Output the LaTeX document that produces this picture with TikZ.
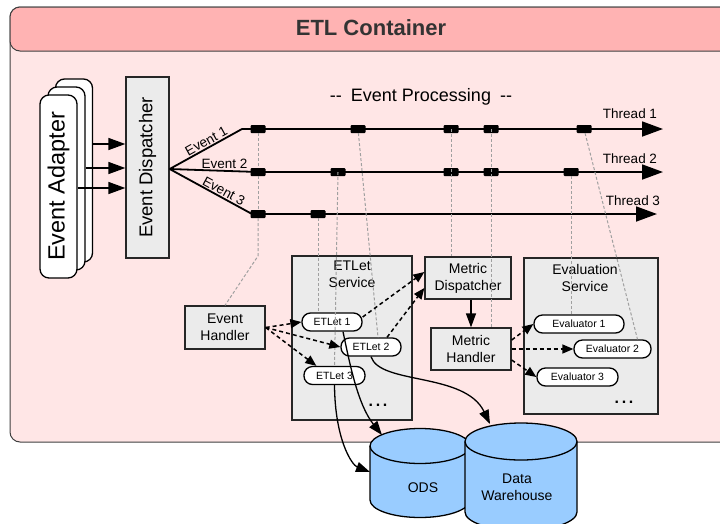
\documentclass[tikz,border=0pt]{standalone}
\usepackage{fontspec}
\setmainfont{Liberation Sans}
\usepackage{graphicx}
\usetikzlibrary{arrows.meta}

\definecolor{headpink}{HTML}{FFB3B3}
\definecolor{bodypink}{HTML}{FFE6E6}
\definecolor{boxgray}{HTML}{EBEBEB}
\definecolor{dotgray}{HTML}{A0A0A0}
\definecolor{dbblue}{HTML}{99CCFF}

% cylinder: centre x, top y, x radius, y radius, bottom y
\newcommand{\dbcyl}[5]{%
  \filldraw[fill=dbblue, line width=1.3pt] ({#1-#3},#2) -- ({#1-#3},#5)
    arc[start angle=180, end angle=360, x radius=#3, y radius=#4]
    -- ({#1+#3},#2)
    arc[start angle=0, end angle=180, x radius=#3, y radius=#4] -- cycle;
  \draw[line width=1.3pt] ({#1-#3},#2)
    arc[start angle=180, end angle=360, x radius=#3, y radius=#4];}

\begin{document}
\begin{tikzpicture}[x=1pt,y=1pt]
        \tikzstyle{gray box}=[draw=black!85,line width=1.3pt,fill=boxgray,align=center,inner sep=0pt,font=\fontsize{14}{17}\selectfont]
        \tikzstyle{adapter node}=[draw,line width=1.3pt,fill=white,rounded corners=9pt,inner sep=0pt,minimum width=37pt,minimum height=183pt]
        \tikzstyle{pill node}=[draw,line width=1.3pt,fill=white,rounded corners=8.5pt,inner sep=0pt,minimum height=18pt,font=\fontsize{10.5}{12}\selectfont]
        \tikzstyle{stamp node}=[fill=black,minimum width=15pt,minimum height=8pt,inner sep=0pt,rounded corners=1pt]
        \tikzstyle{feed arrow}=[line width=1.5pt,-{Triangle[length=17pt,width=12pt]}]
        \tikzstyle{thread line}=[line width=1.8pt,-{Triangle[length=21pt,width=15pt]}]
        \tikzstyle{thread label}=[font=\fontsize{13.5}{16}\selectfont]
        \tikzstyle{dot line}=[draw=dotgray,line width=1pt,dash pattern=on 3pt off 2pt]
        \tikzstyle{call arrow}=[line width=1.5pt,dash pattern=on 4pt off 3pt,-{Triangle[length=11pt,width=9pt]}]
        \tikzstyle{store arrow}=[line width=1.3pt,-{Triangle[length=14pt,width=10pt]}]
        \tikzstyle{db text}=[align=center,font=\fontsize{14}{17}\selectfont]

        \useasboundingbox (0,0) rectangle (720,-523);
        \clip (0,0) rectangle (720,-523);

        % container
        \draw[draw=black!75,fill=bodypink,rounded corners=10pt,line width=1pt] (10,-7) rectangle (745,-442);
        \draw[draw=black!75,fill=headpink,rounded corners=10pt,line width=1pt] (10,-7) rectangle (745,-51);
        \node[font=\bfseries\fontsize{22}{26}\selectfont,text=black!80] (title) at (371,-28) {ETL Container};

        % adapters and dispatcher
        \node[adapter node] (ad3) at (74,-170.5) {};
        \node[adapter node] (ad2) at (66.5,-178.5) {};
        \node[adapter node,font=\fontsize{23.5}{26}\selectfont] (ad1) at (58.5,-186.5) {\rotatebox{90}{Event Adapter}};
        \node[gray box,minimum width=43pt,minimum height=181pt,font=\fontsize{18.5}{20}\selectfont] (disp) at (147.5,-167.5) {\rotatebox{90}{Event Dispatcher}};
        \draw[feed arrow] (ad3.east |- 0,-144) -- (disp.west |- 0,-144);
        \draw[feed arrow] (ad2.east |- 0,-168) -- (disp.west |- 0,-168);
        \draw[feed arrow] (ad1.east |- 0,-188) -- (disp.west |- 0,-188);

        % services
        \node[gray box,minimum width=120pt,minimum height=164pt] (svc) at (352,-338) {};
        \node[align=center,anchor=north,font=\fontsize{14}{17}\selectfont] (svct) at ([yshift=-2pt]svc.north) {ETLet\\Service};
        \node[gray box,minimum width=134pt,minimum height=156pt] (evs) at (591,-336) {};
        \node[align=center,anchor=north,font=\fontsize{14}{17}\selectfont] (evst) at ([xshift=-6pt,yshift=-3pt]evs.north) {Evaluation\\Service};

        % threads
        \node[font=\fontsize{18}{20}\selectfont] (proc) at (421,-97) {-{}-\hspace{9pt}Event Processing\hspace{9pt}-{}-};
        \coordinate (fan) at (disp.east |- 0,-169);
        \coordinate (bend1) at (242,-129);
        \coordinate (bend2) at (258,-172);
        \coordinate (bend3) at (252,-214);
        \coordinate (t1end) at (663,-129);
        \coordinate (t2end) at (663,-172);
        \coordinate (t3end) at (657,-214);
        \draw[thread line] (fan) -- node[sloped,above,pos=0.55,inner sep=1pt,thread label] {Event 1} (bend1) -- (t1end);
        \draw[thread line] (fan) -- node[above,pos=0.62,inner sep=1pt,thread label] {Event 2} (bend2) -- (t2end);
        \draw[thread line] (fan) -- node[sloped,above,pos=0.62,inner sep=1pt,thread label] {Event 3} (bend3) -- (t3end);
        \node[thread label] (th1) at (630,-114) {Thread 1};
        \node[thread label] (th2) at (630,-159) {Thread 2};
        \node[thread label] (th3) at (633,-201) {Thread 3};

        \node[stamp node] (m11) at (258,-129) {};
        \node[stamp node] (m12) at (358,-129) {};
        \node[stamp node] (m13) at (451,-129) {};
        \node[stamp node] (m14) at (491,-129) {};
        \node[stamp node] (m15) at (584,-129) {};
        \node[stamp node] (m21) at (258,-172) {};
        \node[stamp node] (m22) at (338,-172) {};
        \node[stamp node] (m23) at (451,-172) {};
        \node[stamp node] (m24) at (491,-172) {};
        \node[stamp node] (m25) at (571,-172) {};
        \node[stamp node] (m31) at (258,-214) {};
        \node[stamp node] (m32) at (318,-214) {};

        % handlers
        \node[gray box,minimum width=80pt,minimum height=43pt] (eh) at (225,-327.5) {Event\\Handler};
        \node[gray box,minimum width=86pt,minimum height=42pt] (md) at (468,-278) {Metric\\Dispatcher};
        \node[gray box,minimum width=80pt,minimum height=42pt] (mh) at (471,-349) {Metric\\Handler};

        \node[pill node,minimum width=60pt] (e1) at (332,-322) {ETLet 1};
        \node[pill node,minimum width=60pt] (e2) at (371,-347) {ETLet 2};
        \node[pill node,minimum width=61pt] (e3) at (334.5,-375.5) {ETLet 3};
        \node[pill node,minimum width=90pt] (v1) at (579,-324) {Evaluator 1};
        \node[pill node,minimum width=77pt] (v2) at (612.5,-349) {Evaluator 2};
        \node[pill node,minimum width=81pt] (v3) at (577.5,-377) {Evaluator 3};
        \node[anchor=base,font=\bfseries\fontsize{16}{16}\selectfont] (more1) at (378,-406) {.\,.\,.};
        \node[anchor=base,font=\bfseries\fontsize{16}{16}\selectfont] (more2) at (624,-403) {.\,.\,.};

        % dotted traces
        \draw[dot line] (m11) -- (m21);
        \draw[dot line] (m21) -- (m31);
        \draw[dot line] (m31) -- (258,-256) -- (eh.north);
        \draw[dot line] (m32) -- (m32 |- e1.north);
        \draw[dot line] (m22.center) -- (e3.north);
        \draw[dot line] (m12) -- ([xshift=7pt]e2.north);
        \draw[dot line] (m13.center) -- (m23.center) -- (m13 |- md.north);
        \draw[dot line] (m14.center) -- (m24.center) -- (m14 |- mh.north);
        \draw[dot line] (m25) -- (m25 |- v1.north);
        \draw[dot line] (m15) -- ([xshift=25pt]v2.north);

        % calls
        \draw[call arrow] (eh.east) -- (e1.west);
        \draw[call arrow] (eh.east) -- (e2.west);
        \draw[call arrow] (eh.east) -- ([xshift=13pt]e3.north west);
        \draw[call arrow] ([yshift=5pt]e1.east) -- ([yshift=6pt]md.west);
        \draw[call arrow] ([xshift=16pt]e2.north) -- ([yshift=-10pt]md.west);
        \draw[call arrow] ([yshift=9pt]mh.east) -- (v1.west);
        \draw[call arrow] (mh.east) -- (v2.west);
        \draw[call arrow] ([yshift=-11pt]mh.east) -- (v3.west);
        \draw[store arrow] (md.south -| mh.north) -- (mh.north);

        % stores
        \dbcyl{420}{-446}{50}{17.5}{-500}
        \coordinate (odstop) at (382,-435);
        \coordinate (odsside) at (370,-472);
        \node[db text] (ods) at (423,-488) {ODS};
        \dbcyl{521}{-441.5}{56}{18.5}{-512}
        \coordinate (dwtop) at (490,-424);
        \node[db text] (dw) at (517,-487) {Data\\Warehouse};

        \draw[store arrow] ([xshift=11pt]e1.south) .. controls (350,-365) and (358,-405) .. (odstop);
        \draw[store arrow] (e3.south) .. controls (335,-440) and (352,-465) .. (odsside);
        \draw[store arrow] (e2.south) .. controls (380,-385) and (465,-372) .. (dwtop);
    \end{tikzpicture}
\end{document}
